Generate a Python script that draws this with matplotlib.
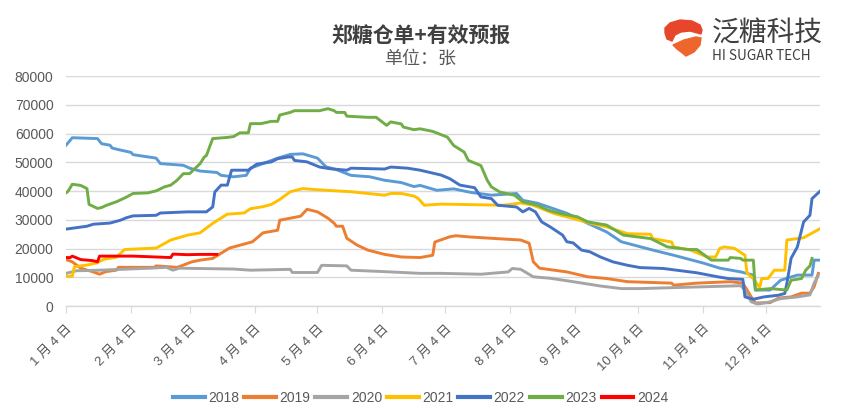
import numpy as np
import matplotlib
matplotlib.use("Agg")
import matplotlib.pyplot as plt
import matplotlib.patches as patches

plt.rcParams['font.family'] = ['Liberation Sans', 'Noto Sans CJK SC']

# === DATA (days after Jan 4, value in 张) ===
YEARS = ['2018', '2019', '2020', '2021', '2022', '2023', '2024']
COLORS = ['#5B9BD5', '#ED7D31', '#A5A5A5', '#FFC000', '#4472C4', '#70AD47', '#FF0000']

days_2018 = [0, 3, 15, 17, 21, 22, 26, 31, 32, 43, 45, 56, 59, 64, 72, 74, 80, 86, 88, 94, 101, 107, 113,
             120, 124, 129, 136, 145, 152, 160, 166, 169, 177, 185, 193, 203, 215, 218, 225, 239, 249, 258,
             265, 280, 290, 304, 312, 322, 328, 329, 336, 341, 349, 356, 357, 360]
vals_2018 = [56000, 58600, 58300, 56500, 56000, 55000, 54300, 53500, 52700, 51500, 49600, 49000, 48000,
             47000, 46500, 45500, 45000, 45500, 48000, 49600, 51500, 52800, 53000, 51500, 48500, 47500,
             45500, 45000, 43800, 43000, 41600, 42000, 40300, 40800, 39600, 38600, 39200, 36800, 35800,
             32300, 28800, 25800, 22400, 19500, 17700, 15000, 13200, 11900, 10800, 5600, 5600, 9000,
             10800, 10800, 16000, 16000]

days_2019 = [0, 3, 7, 13, 16, 19, 24, 25, 42, 43, 53, 55, 60, 64, 70, 74, 78, 83, 89, 94, 101, 102, 107,
             112, 115, 120, 125, 128, 129, 132, 134, 139, 144, 152, 160, 169, 175, 176, 183, 186, 192, 203,
             217, 221, 223, 226, 233, 239, 249, 258, 268, 289, 290, 301, 317, 323, 327, 329, 336, 340, 346,
             351, 355, 357, 359]
vals_2019 = [16200, 15400, 13200, 11900, 11100, 12000, 12500, 13500, 13500, 14000, 13500, 14000, 15400,
             16000, 16600, 18400, 20200, 21200, 22400, 25500, 26400, 29900, 30600, 31300, 33700, 32800,
             30600, 28800, 27800, 27800, 23600, 21200, 19500, 18000, 17100, 16900, 17700, 22300, 24100,
             24500, 24100, 23600, 23000, 21900, 15400, 13200, 12500, 11900, 10200, 9600, 8500, 8000, 7300,
             8000, 8500, 8000, 3200, 1100, 1200, 2800, 3200, 4500, 4500, 6700, 11400]

days_2020 = [0, 5, 16, 40, 48, 51, 54, 80, 88, 107, 108, 120, 122, 134, 136, 152, 169, 179, 198, 211, 213,
             217, 223, 231, 242, 255, 265, 274, 322, 324, 327, 330, 336, 341, 349, 355, 357, 359]
vals_2020 = [11400, 12300, 12500, 13200, 13500, 12500, 13200, 12900, 12500, 12800, 11700, 11700, 14200,
             14000, 12500, 12000, 11400, 11400, 11100, 11900, 13100, 12800, 10200, 9700, 8500, 7000, 6100,
             6100, 7100, 5600, 1500, 700, 1500, 2600, 3200, 3900, 8000, 10800]

days_2021 = [0, 3, 4, 10, 15, 18, 24, 28, 43, 47, 50, 58, 64, 70, 77, 85, 88, 94, 98, 102, 107, 113, 120,
             136, 152, 155, 160, 166, 168, 171, 179, 209, 217, 223, 233, 242, 252, 258, 268, 279, 280, 289,
             290, 298, 306, 310, 312, 314, 319, 324, 325, 328, 331, 332, 335, 338, 343, 344, 352, 355, 360]
vals_2021 = [10400, 10400, 13700, 14300, 15100, 16300, 17000, 19700, 20200, 21800, 23000, 24700, 25500,
             28800, 32000, 32400, 33900, 34600, 35400, 37100, 39800, 40900, 40500, 39800, 38600, 39200,
             39200, 38300, 37500, 35100, 35500, 35100, 35900, 35100, 32200, 30500, 28500, 27600, 25200,
             25000, 23500, 22300, 20600, 19500, 17100, 17100, 20100, 20600, 20100, 17700, 11400, 9600, 6400,
             9600, 9600, 12500, 12500, 23000, 23800, 25000, 27000]

days_2022 = [0, 10, 13, 21, 26, 29, 32, 43, 45, 58, 67, 70, 71, 74, 77, 79, 87, 91, 98, 101, 106, 108, 109,
             115, 121, 126, 134, 136, 152, 155, 163, 169, 179, 183, 188, 195, 198, 203, 206, 215, 218, 221,
             224, 227, 231, 237, 239, 242, 246, 250, 255, 261, 268, 274, 285, 301, 311, 316, 323, 324, 328,
             333, 340, 343, 344, 346, 349, 352, 355, 356, 360]
vals_2022 = [26800, 27800, 28500, 28900, 29900, 30800, 31400, 31600, 32400, 32800, 32800, 34500, 39700,
             42100, 42100, 47300, 47300, 49400, 50200, 51300, 51900, 51900, 50700, 50200, 48400, 47800,
             47300, 48000, 47700, 48400, 48000, 47300, 45600, 44400, 42100, 41200, 38000, 37400, 35100,
             34500, 32800, 34000, 32800, 29300, 27600, 24700, 22400, 22000, 19500, 18900, 17100, 15400,
             14200, 13400, 13100, 11600, 10200, 9600, 9300, 3200, 2400, 3200, 3800, 4400, 7900, 16600,
             20600, 29300, 31600, 37400, 40100]

days_2023 = [0, 1, 3, 7, 10, 11, 15, 17, 19, 24, 27, 29, 32, 39, 43, 47, 50, 53, 56, 59, 64, 66, 67, 70,
             77, 80, 83, 87, 88, 93, 98, 101, 102, 107, 109, 121, 125, 128, 129, 133, 134, 144, 148, 153,
             155, 160, 161, 166, 169, 175, 182, 185, 190, 192, 198, 201, 203, 207, 214, 218, 225, 230, 236,
             244, 249, 258, 266, 279, 287, 297, 301, 308, 316, 317, 322, 323, 328, 329, 336, 344, 346, 351,
             353, 355, 356]
vals_2023 = [39400, 40000, 42400, 42000, 40900, 35400, 34000, 34300, 35000, 36300, 37300, 38000, 39200,
             39400, 40100, 41500, 42100, 43800, 46100, 46100, 49600, 51900, 52400, 58300, 58700, 59000,
             60300, 60300, 63500, 63500, 64300, 64300, 66500, 67400, 68000, 68000, 68700, 68000, 67400,
             67400, 66100, 65700, 65700, 62900, 64100, 63400, 62300, 61400, 61700, 60800, 58800, 55900,
             53600, 50700, 48900, 43800, 41500, 39700, 38600, 36300, 35100, 33400, 32200, 31100, 29300,
             28200, 24700, 23500, 20600, 19700, 19700, 16000, 16000, 16900, 16600, 16000, 16000, 5600,
             6100, 5600, 9000, 9600, 12500, 14000, 16600]

days_2024 = [0, 2, 3, 7, 13, 15, 16, 32, 50, 51, 58, 64, 72]
vals_2024 = [16900, 16900, 17400, 16200, 15800, 15400, 17400, 17400, 16900, 18100, 17900, 18000, 18000]

SERIES_DAYS = [days_2018, days_2019, days_2020, days_2021, days_2022, days_2023, days_2024]
SERIES_VALS = [vals_2018, vals_2019, vals_2020, vals_2021, vals_2022, vals_2023, vals_2024]

TICK_DAYS = [0, 31, 59, 90, 120, 151, 181, 212, 243, 273, 304, 334]
TICK_LABELS = [f'{m} 月 4 日' for m in range(1, 13)]

# === FIGURE ===
fig = plt.figure(figsize=(8.41, 4.12), dpi=100)
ax = fig.add_axes([0.0785, 0.257, 0.897, 0.558])

for d, v, c, y in zip(SERIES_DAYS, SERIES_VALS, COLORS, YEARS):
    ax.plot(d, v, color=c, lw=2.1, label=y)

ax.set_xlim(0, 360)
ax.set_ylim(0, 80000)
ax.set_yticks(np.arange(0, 80001, 10000))
ax.yaxis.grid(True, color='#D9D9D9', lw=1)
ax.set_axisbelow(True)
for s in ['top', 'right', 'left']:
    ax.spines[s].set_visible(False)
ax.spines['bottom'].set_color('#D9D9D9')
ax.spines['bottom'].set_linewidth(1)
ax.tick_params(axis='y', length=0, labelsize=10, labelcolor='#595959', pad=9)
ax.set_xticks(TICK_DAYS)
ax.set_xticklabels(TICK_LABELS, rotation=45, ha='right', rotation_mode='anchor')
ax.tick_params(axis='x', length=5, color='#D9D9D9', labelsize=9.5, labelcolor='#595959', pad=7)

leg = ax.legend(loc='upper center', bbox_to_anchor=(0.47, -0.315), ncol=7, frameon=False,
                fontsize=10, handlelength=2.3, handletextpad=0.25, columnspacing=0.35)
for t in leg.get_texts():
    t.set_color('#595959')
for h in leg.get_lines():
    h.set_linewidth(3)

fig.text(0.5, 0.915, '郑糖仓单+有效预报', ha='center', va='center', fontsize=15,
         fontweight='bold', color='#404040', family=['Noto Sans CJK SC'])
fig.text(0.5, 0.858, '单位：张', ha='center', va='center', fontsize=13, color='#595959',
         family=['Noto Sans CJK SC'])

# logo (pixel-space box, y downward)
lax = fig.add_axes([660 / 841, 1 - 58 / 412, 44 / 841, 40 / 412])
lax.set_xlim(0, 44)
lax.set_ylim(40, 0)
lax.axis('off')
top_piece = [(5, 10), (10, 5), (20, 2), (32, 3), (40, 7), (42, 12), (41, 16), (30, 13), (21, 14),
             (15, 17), (12, 23), (7, 21), (5, 15)]
bottom_piece = [(13, 27), (24, 22), (36, 19), (41, 20), (40, 27), (34, 34), (26, 38), (21, 34), (17, 31)]
lax.add_patch(patches.Polygon(top_piece, closed=True, color='#E8462C'))
lax.add_patch(patches.Polygon(bottom_piece, closed=True, color='#EE652E'))

fig.text(712 / 841, 1 - 34 / 412, '泛糖科技', ha='left', va='center', fontsize=20, color='#404040',
         family=['Noto Sans CJK SC'])
fig.text(712 / 841, 1 - 56 / 412, 'HI SUGAR TECH', ha='left', va='center', fontsize=9.8,
         color='#404040', fontweight='medium', family=['Noto Sans CJK SC'])

fig.savefig('out.png', dpi=100)
